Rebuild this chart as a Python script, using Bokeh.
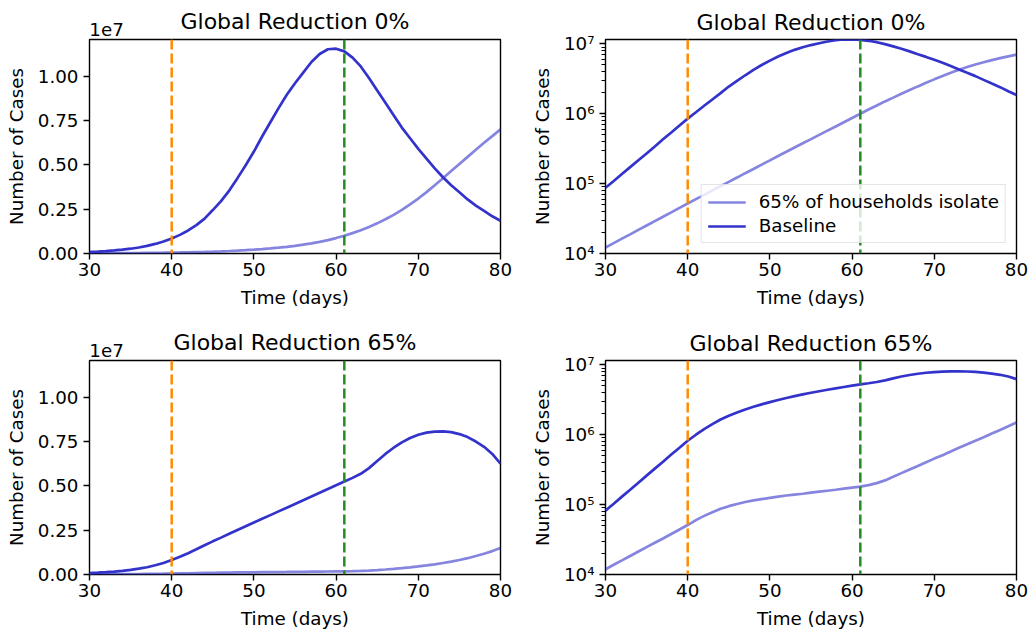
from bokeh.plotting import figure
from bokeh.models import (Range1d, FixedTicker, LogTicker, Span, Legend, LegendItem,
                          ColumnDataSource, LinearAxis)
from bokeh.layouts import column, row
from bokeh.embed import file_html
from bokeh.resources import INLINE

# ---------------- data ----------------
days = list(range(30, 81))

baseline_0 = [8.7e4, 1.09e5, 1.37e5, 1.72e5, 2.16e5, 2.7e5, 3.4e5, 4.3e5, 5.4e5, 6.8e5,
              8.5e5, 1.05e6, 1.3e6, 1.6e6, 1.97e6, 2.45e6, 2.95e6, 3.55e6, 4.25e6, 4.98e6,
              5.75e6, 6.6e6, 7.4e6, 8.2e6, 8.95e6, 9.6e6, 1.02e7, 1.08e7, 1.125e7, 1.152e7,
              1.155e7, 1.14e7, 1.105e7, 1.055e7, 9.9e6, 9.2e6, 8.5e6, 7.8e6, 7.1e6, 6.5e6,
              5.9e6, 5.35e6, 4.8e6, 4.3e6, 3.85e6, 3.45e6, 3.05e6, 2.7e6, 2.4e6, 2.1e6, 1.85e6]

isolate_0 = [1.22e4, 1.41e4, 1.63e4, 1.88e4, 2.18e4, 2.52e4, 2.91e4, 3.36e4, 3.88e4, 4.5e4,
             5.2e4, 6.0e4, 6.9e4, 8.0e4, 9.2e4, 1.06e5, 1.22e5, 1.41e5, 1.62e5, 1.87e5,
             2.15e5, 2.48e5, 2.85e5, 3.28e5, 3.77e5, 4.33e5, 4.98e5, 5.72e5, 6.57e5, 7.55e5,
             8.7e5, 1.0e6, 1.15e6, 1.31e6, 1.5e6, 1.7e6, 1.93e6, 2.18e6, 2.46e6, 2.77e6,
             3.1e6, 3.46e6, 3.85e6, 4.25e6, 4.65e6, 5.05e6, 5.45e6, 5.85e6, 6.25e6, 6.62e6, 7.0e6]

baseline_65 = [8.2e4, 1.03e5, 1.3e5, 1.63e5, 2.06e5, 2.6e5, 3.27e5, 4.1e5, 5.2e5, 6.5e5,
               8.2e5, 1.0e6, 1.2e6, 1.42e6, 1.65e6, 1.87e6, 2.08e6, 2.3e6, 2.51e6, 2.72e6,
               2.93e6, 3.14e6, 3.35e6, 3.56e6, 3.77e6, 3.98e6, 4.19e6, 4.4e6, 4.61e6, 4.82e6,
               5.03e6, 5.24e6, 5.45e6, 5.68e6, 6.0e6, 6.4e6, 6.8e6, 7.15e6, 7.45e6, 7.7e6,
               7.88e6, 8.0e6, 8.06e6, 8.07e6, 8.03e6, 7.92e6, 7.75e6, 7.5e6, 7.2e6, 6.8e6, 6.25e6]

isolate_65 = [1.19e4, 1.38e4, 1.59e4, 1.84e4, 2.13e4, 2.46e4, 2.84e4, 3.28e4, 3.8e4, 4.4e4,
              5.1e4, 6.0e4, 6.9e4, 7.8e4, 8.7e4, 9.5e4, 1.02e5, 1.09e5, 1.15e5, 1.2e5,
              1.25e5, 1.3e5, 1.35e5, 1.39e5, 1.43e5, 1.48e5, 1.53e5, 1.58e5, 1.63e5, 1.69e5,
              1.75e5, 1.81e5, 1.9e5, 2.03e5, 2.22e5, 2.5e5, 2.82e5, 3.18e5, 3.58e5, 4.03e5,
              4.55e5, 5.1e5, 5.75e5, 6.5e5, 7.3e5, 8.2e5, 9.2e5, 1.04e6, 1.17e6, 1.32e6, 1.5e6]

intervention_days = [40, 61]
intervention_colors = ["#ff8c00", "#228b22"]

titles = ["Global Reduction 0%", "Global Reduction 65%"]
series_labels = ["65% of households isolate", "Baseline"]
x_ticks = [30, 40, 50, 60, 70, 80]
lin_ticks = [0, 2500000, 5000000, 7500000, 10000000]
lin_tick_labels = ["0.00", "0.25", "0.50", "0.75", "1.00"]
log_ticks = [10000, 100000, 1000000, 10000000]
log_tick_labels = ["10\u2074", "10\u2075", "10\u2076", "10\u2077"]
offset_text = "1e7"

FONT = "DejaVu Sans"
FS = "18.3px"
TFS = "22px"
C_BASE = "#3333cc"
LIN_TOP = 1.207e7
LOG_RANGE = (1e4, 1.153e7)
OFFSET_X = 32.07   # where the "1e7" multiplier text sits (left of the frame's top edge)


def style_text_axis(ax):
    ax.major_label_text_font = FONT
    ax.major_label_text_font_size = FS
    ax.major_label_text_color = "black"
    ax.axis_label_text_font = FONT
    ax.axis_label_text_font_size = FS
    ax.axis_label_text_font_style = "normal"
    ax.axis_label_text_color = "black"


def make_fig(title, baseline, isolate, log, left, width, height, top, bottom, with_legend):
    kw = dict(y_axis_type="log") if log else {}
    yr = Range1d(*LOG_RANGE) if log else Range1d(0, LIN_TOP)
    p = figure(width=width, height=height, x_range=Range1d(30, 80), y_range=yr,
               output_backend="svg", toolbar_location=None, tools="",
               min_border_left=left, min_border_right=width - left - 411,
               min_border_top=top, min_border_bottom=bottom, **kw)
    p.grid.visible = False
    p.outline_line_color = "black"
    p.outline_line_width = 1.4
    p.outline_line_alpha = 1

    for ax in (p.xaxis[0], p.yaxis[0]):
        ax.axis_line_color = None
        ax.major_tick_line_color = "black"
        ax.major_tick_line_width = 1.4
        ax.major_tick_out = 6
        ax.major_tick_in = 0
        ax.minor_tick_out = 4
        ax.minor_tick_in = 0
        ax.minor_tick_line_width = 1
        style_text_axis(ax)

    p.xaxis.ticker = FixedTicker(ticks=x_ticks)
    p.xaxis.minor_tick_line_color = None
    p.xaxis.axis_label = "Time (days)"
    p.xaxis.major_label_standoff = 3
    p.xaxis.axis_label_standoff = 8
    p.yaxis.axis_label = "Number of Cases"
    p.yaxis.major_label_standoff = 5
    p.yaxis.axis_label_standoff = 8

    if log:
        p.title.text = title
        p.title.align = "center"
        p.title.text_font = FONT
        p.title.text_font_size = TFS
        p.title.text_font_style = "normal"
        p.title.text_color = "black"
        p.title.standoff = 10
        p.yaxis.ticker = LogTicker(desired_num_ticks=4, num_minor_ticks=10)
        p.yaxis.minor_tick_line_color = "black"
        p.yaxis.major_label_overrides = dict(zip(log_ticks, log_tick_labels))
    else:
        p.title.text = ""
        p.yaxis.ticker = FixedTicker(ticks=lin_ticks)
        p.yaxis.minor_tick_line_color = None
        p.yaxis.major_label_overrides = dict(zip(lin_ticks, lin_tick_labels))
        # top guide carrying the "1e7" multiplier and the panel title
        top_ax = LinearAxis(ticker=FixedTicker(ticks=[OFFSET_X]),
                            major_label_overrides={OFFSET_X: offset_text})
        style_text_axis(top_ax)
        top_ax.axis_line_color = None
        top_ax.major_tick_line_color = None
        top_ax.minor_tick_line_color = None
        top_ax.major_tick_out = 0
        top_ax.major_tick_in = 0
        top_ax.major_label_standoff = 4
        top_ax.axis_label = title
        top_ax.axis_label_text_font_size = TFS
        top_ax.axis_label_standoff = -14
        p.add_layout(top_ax, "above")

    src = ColumnDataSource(dict(t=days, base=baseline, iso=isolate))
    r_iso = p.line("t", "iso", source=src, line_color=C_BASE, line_alpha=0.6, line_width=2.7)
    r_base = p.line("t", "base", source=src, line_color=C_BASE, line_width=2.7)

    for d, c in zip(intervention_days, intervention_colors):
        p.add_layout(Span(location=d, dimension="height", line_color=c, line_width=2.5,
                          line_dash="10 4"))

    if with_legend:
        leg = Legend(items=[LegendItem(label=series_labels[0], renderers=[r_iso]),
                            LegendItem(label=series_labels[1], renderers=[r_base])],
                     location="bottom_right")
        leg.label_text_font = FONT
        leg.label_text_font_size = FS
        leg.label_text_color = "black"
        leg.glyph_width = 38
        leg.glyph_height = 20
        leg.label_height = 20
        leg.label_standoff = 13
        leg.spacing = 3
        leg.padding = 6
        leg.margin = 10
        leg.border_line_color = "#cccccc"
        leg.border_line_width = 1
        leg.background_fill_alpha = 0.8
        p.add_layout(leg, "center")
    return p


p1 = make_fig(titles[0], baseline_0, isolate_0, False, 89, 515, 310, 39, 57, False)
p2 = make_fig(titles[0], baseline_0, isolate_0, True, 90, 515, 310, 39, 57, True)
p3 = make_fig(titles[1], baseline_65, isolate_65, False, 89, 515, 321, 50, 57, False)
p4 = make_fig(titles[1], baseline_65, isolate_65, True, 90, 515, 321, 50, 57, False)

layout = column(row(p1, p2), row(p3, p4))
open("out.html", "w").write(file_html(layout, INLINE))
